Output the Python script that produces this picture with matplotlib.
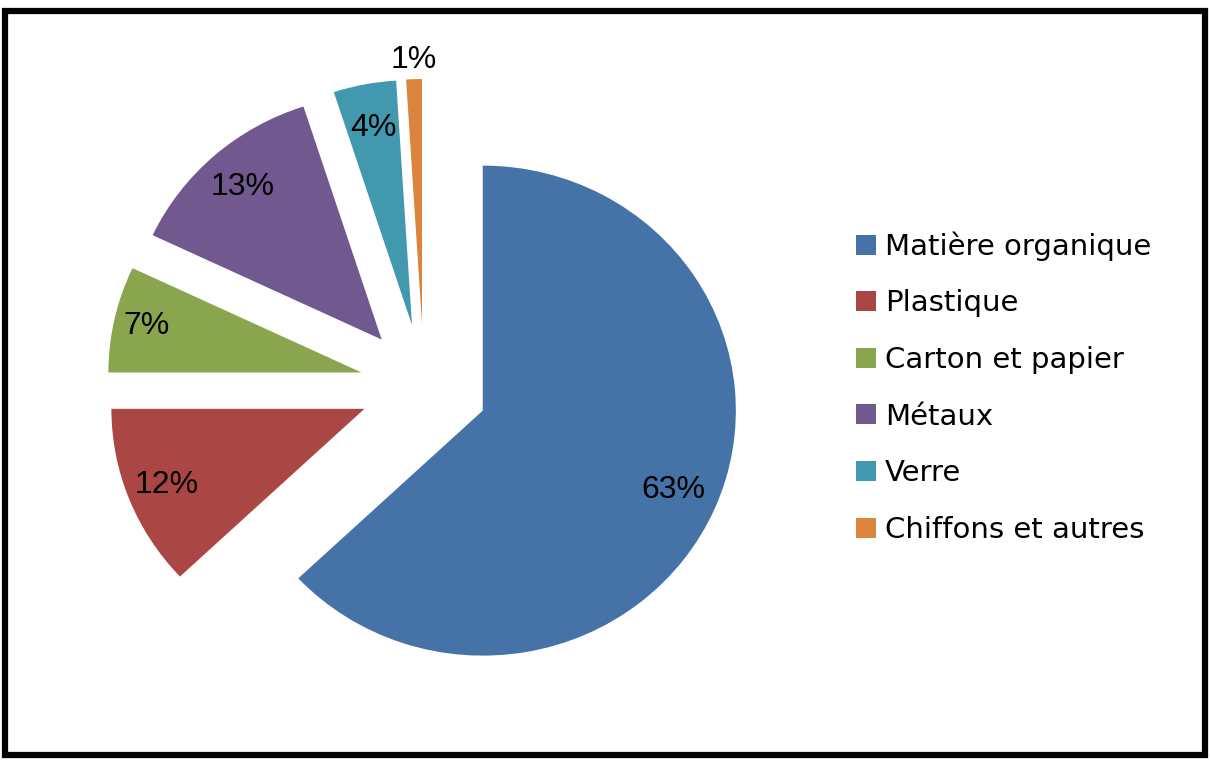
import numpy as np
import matplotlib
matplotlib.use("Agg")
import matplotlib.pyplot as plt
from matplotlib.patches import Rectangle

categories = ["Matière organique", "Plastique", "Carton et papier",
              "Métaux", "Verre", "Chiffons et autres"]
shares = [63, 12, 7, 13, 4, 1]
colors = ["#4572A7", "#AA4643", "#89A54E", "#71588F", "#4198AF", "#DB843D"]

# radial position of each percentage label, as a fraction of the radius
label_dist = [0.82, 0.84, 0.87, 0.83, 0.82, 1.08]

fig = plt.figure(figsize=(12.1, 7.6), dpi=100)
ax = fig.add_axes([0, 0, 1, 1])

radius = 245
cx, cy = 424, 374
# explode offsets are in data units here (axes run in pixels)
wedges, _ = ax.pie(shares, colors=colors, startangle=90, counterclock=False,
                   explode=[0.253 * radius] * len(shares), center=(cx, cy),
                   radius=radius, wedgeprops=dict(linewidth=0))

# pie() resets the limits, so pin the axes afterwards; the pie is drawn
# slightly wider than tall
sx = 1.033
x0 = cx - cx / sx
ax.set_xlim(x0, x0 + 1210 / sx)
ax.set_ylim(0, 760)
ax.set_aspect("auto")
ax.axis("off")

for w, s, d in zip(wedges, shares, label_dist):
    ang = np.deg2rad((w.theta1 + w.theta2) / 2)
    x = w.center[0] + d * radius * np.cos(ang)
    y = w.center[1] + d * radius * np.sin(ang)
    ax.text(x, y, f"{s}%", ha="center", va="center", fontsize=23,
            family="Liberation Sans", color="black")

fig.legend(wedges, categories, loc="center left", bbox_to_anchor=(0.686, 0.490),
           frameon=False, fontsize=21, handlelength=0.68, handleheight=0.68,
           handletextpad=0.3, labelspacing=0.98)

# chart frame
fig.patches.append(Rectangle((5 / 1210, 5 / 760), 1200 / 1210, 744 / 760,
                             transform=fig.transFigure, fill=False,
                             edgecolor="black", linewidth=4.5))

fig.savefig("out.png", dpi=100, facecolor="white")
